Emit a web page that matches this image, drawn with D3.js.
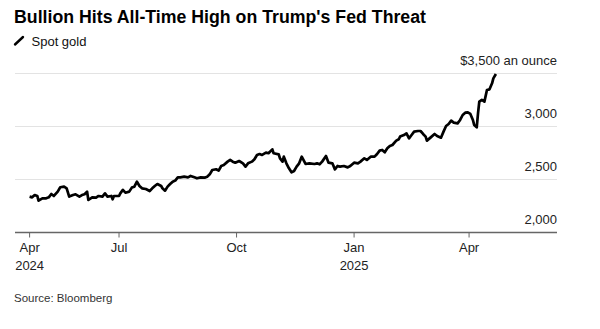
<!DOCTYPE html>
<html>
<head>
<meta charset="utf-8">
<script src="https://cdn.jsdelivr.net/npm/d3@7"></script>
<style>
  body { margin: 0; background: #fff; }
  svg { display: block; font-family: "Liberation Sans", Arial, sans-serif; }
</style>
</head>
<body>
<svg id="chart" width="600" height="329"></svg>
<script>
// spot gold
const dates = [
  "2024-04-22","2024-04-24","2024-04-26","2024-04-28","2024-04-29","2024-05-02","2024-05-05","2024-05-07",
  "2024-05-09","2024-05-11","2024-05-14","2024-05-16","2024-05-19","2024-05-21","2024-05-23","2024-05-26",
  "2024-05-28","2024-05-31","2024-06-02","2024-06-04","2024-06-06","2024-06-07","2024-06-10","2024-06-13",
  "2024-06-15","2024-06-18","2024-06-20","2024-06-22","2024-06-25","2024-06-26","2024-06-27","2024-07-01",
  "2024-07-02","2024-07-04","2024-07-06","2024-07-09","2024-07-11","2024-07-13","2024-07-15","2024-07-17",
  "2024-07-19","2024-07-22","2024-07-25","2024-07-27","2024-07-29","2024-07-31","2024-08-03","2024-08-04",
  "2024-08-06","2024-08-08","2024-08-10","2024-08-12","2024-08-14","2024-08-16","2024-08-18","2024-08-21",
  "2024-08-24","2024-08-26","2024-08-29","2024-08-31","2024-09-03","2024-09-06","2024-09-08","2024-09-10",
  "2024-09-12","2024-09-15","2024-09-17","2024-09-19","2024-09-21","2024-09-24","2024-09-26","2024-09-28",
  "2024-09-30","2024-10-03","2024-10-06","2024-10-08","2024-10-10","2024-10-13","2024-10-15","2024-10-17",
  "2024-10-19","2024-10-21","2024-10-24","2024-10-26","2024-10-29","2024-10-30","2024-11-03","2024-11-04",
  "2024-11-06","2024-11-07","2024-11-09","2024-11-11","2024-11-13","2024-11-15","2024-11-17","2024-11-19",
  "2024-11-21","2024-11-24","2024-11-27","2024-12-01","2024-12-03","2024-12-05","2024-12-07","2024-12-10",
  "2024-12-12","2024-12-15","2024-12-17","2024-12-19","2024-12-21","2024-12-24","2024-12-27","2024-12-29",
  "2025-01-01","2025-01-04","2025-01-06","2025-01-09","2025-01-11","2025-01-14","2025-01-17","2025-01-19",
  "2025-01-21","2025-01-23","2025-01-25","2025-01-27","2025-01-29","2025-01-31","2025-02-03","2025-02-05",
  "2025-02-06","2025-02-09","2025-02-11","2025-02-13","2025-02-15","2025-02-17","2025-02-20","2025-02-22",
  "2025-02-24","2025-02-26","2025-02-27","2025-03-02","2025-03-05","2025-03-07","2025-03-10","2025-03-12",
  "2025-03-14","2025-03-16","2025-03-18","2025-03-20","2025-03-23","2025-03-25","2025-03-27","2025-03-29",
  "2025-03-31","2025-04-02","2025-04-04","2025-04-05","2025-04-07","2025-04-08","2025-04-09","2025-04-11",
  "2025-04-13","2025-04-15","2025-04-17","2025-04-19","2025-04-20","2025-04-22"
];
const prices = [
  2331,2324,2346,2337,2293,2315,2315,2324,
  2356,2337,2378,2419,2425,2409,2331,2346,
  2353,2331,2346,2353,2378,2299,2324,2321,
  2337,2331,2362,2331,2337,2306,2337,2337,
  2362,2394,2368,2378,2416,2425,2472,2431,
  2409,2403,2384,2409,2431,2450,2431,2409,
  2387,2425,2450,2472,2482,2513,2513,2519,
  2513,2526,2513,2504,2513,2510,2519,2541,
  2582,2589,2576,2620,2629,2661,2677,2661,
  2651,2667,2645,2614,2645,2661,2683,2724,
  2733,2724,2746,2740,2777,2740,2730,2692,
  2661,2708,2645,2598,2560,2573,2614,2645,
  2708,2639,2645,2639,2645,2636,2661,2714,
  2651,2645,2588,2620,2614,2620,2607,2620,
  2651,2645,2661,2692,2677,2708,2708,2733,
  2765,2771,2749,2787,2809,2818,2859,2872,
  2897,2912,2928,2881,2912,2944,2950,2950,
  2922,2897,2859,2890,2922,2903,2887,2944,
  2997,3016,3048,3029,3022,3054,3101,3123,
  3126,3111,3054,3007,2985,3117,3227,3243,
  3227,3337,3343,3400,3447,3488
];

const yTicks = [2000, 2500, 3000, 3500];
const yTickLabels = ["2,000", "2,500", "3,000", "$3,500 an ounce"];
const xTickDates = ["2024-04-22", "2024-07-01", "2024-10-01", "2025-01-01", "2025-04-01"];
const xTickLabels = [["Apr", "2024"], ["Jul"], ["Oct"], ["Jan", "2025"], ["Apr"]];

const parse = d3.timeParse("%Y-%m-%d");
const data = dates.map((d, i) => ({ date: parse(d), value: prices[i] }));

const svg = d3.select("#chart");
const left = 15, right = 557;

const x = d3.scaleTime()
  .domain([parse("2024-04-22"), parse("2025-04-22")])
  .range([29.6, 495.9]);
const y = d3.scaleLinear()
  .domain([2000, 3500])
  .range([231.7, 72.7]);

// title + legend
svg.append("text")
  .attr("x", 14).attr("y", 22.7)
  .attr("font-size", 18.7).attr("font-weight", "bold")
  .attr("fill", "#000")
  .attr("textLength", 412).attr("lengthAdjust", "spacingAndGlyphs")
  .text("Bullion Hits All-Time High on Trump's Fed Threat");

svg.append("line")
  .attr("x1", 15).attr("y1", 44.5).attr("x2", 23).attr("y2", 37)
  .attr("stroke", "#000").attr("stroke-width", 2.4).attr("stroke-linecap", "round");
svg.append("text")
  .attr("x", 31.5).attr("y", 46)
  .attr("font-size", 13).attr("fill", "#111")
  .text("Spot gold");

// gridlines
svg.append("g").selectAll("line")
  .data(yTicks.filter(t => t !== 2000))
  .join("line")
  .attr("x1", left).attr("x2", right)
  .attr("y1", d => Math.round(y(d)) + 0.5).attr("y2", d => Math.round(y(d)) + 0.5)
  .attr("stroke", "#e3e3e3").attr("stroke-width", 1.2);

// y labels
svg.append("g").selectAll("text")
  .data(yTicks)
  .join("text")
  .attr("x", right).attr("y", d => y(d) - 7.8)
  .attr("text-anchor", "end")
  .attr("font-size", 13).attr("fill", "#222")
  .text((d, i) => yTickLabels[i]);

// x axis
const axisY = Math.round(y(2000)) + 0.5;
svg.append("line")
  .attr("x1", left).attr("x2", right)
  .attr("y1", axisY).attr("y2", axisY)
  .attr("stroke", "#666").attr("stroke-width", 1.5);

const xt = svg.append("g").selectAll("g")
  .data(xTickDates)
  .join("g")
  .attr("transform", d => `translate(${x(parse(d))},0)`);
xt.append("line")
  .attr("y1", axisY).attr("y2", axisY + 5)
  .attr("stroke", "#666").attr("stroke-width", 1);
xt.each(function(d, i) {
  d3.select(this).selectAll("text")
    .data(xTickLabels[i])
    .join("text")
    .attr("y", (t, j) => 251.5 + j * 18)
    .attr("text-anchor", "middle")
    .attr("font-size", 13).attr("fill", "#222")
    .text(t => t);
});

// the line
const line = d3.line()
  .x(d => x(d.date))
  .y(d => y(d.value));
svg.append("path")
  .datum(data)
  .attr("d", line)
  .attr("fill", "none")
  .attr("stroke", "#000")
  .attr("stroke-width", 2.7)
  .attr("stroke-linejoin", "round");

svg.append("text")
  .attr("x", 14).attr("y", 302)
  .attr("font-size", 11.5).attr("fill", "#333")
  .text("Source: Bloomberg");
</script>
</body>
</html>
